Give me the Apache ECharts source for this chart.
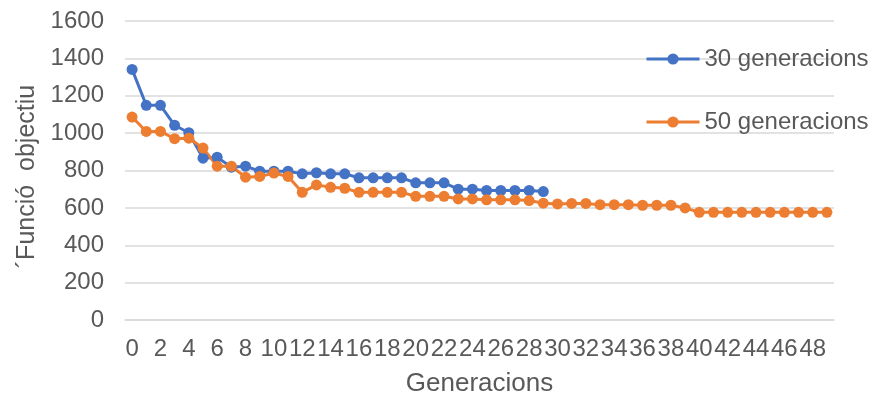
<!DOCTYPE html>
<html>
<head>
<meta charset="utf-8">
<title>Funció objectiu per generació</title>
<script src="https://cdn.jsdelivr.net/npm/echarts@6/dist/echarts.min.js"></script>
<style>
  html, body { margin: 0; padding: 0; background: #ffffff; }
  #chart { width: 871px; height: 397px; }
</style>
</head>
<body>
<div id="chart"></div>
<script>
// Generation index on the x axis (0..49)
const generations = Array.from({ length: 50 }, (_, i) => String(i));

// Objective function value per generation, run with 30 generations
const run30 = [1341, 1149, 1149, 1042, 1002, 866, 871, 818, 823, 796,
               796, 796, 782, 788, 782, 782, 761, 761, 761, 761,
               734, 734, 734, 700, 700, 693, 693, 693, 693, 687];

// Objective function value per generation, run with 50 generations
const run50 = [1086, 1009, 1009, 970, 973, 920, 823, 823, 764, 768,
               786, 768, 683, 723, 710, 705, 683, 683, 683, 683,
               662, 662, 662, 648, 648, 643, 643, 643, 639, 625,
               621, 624, 624, 617, 617, 617, 614, 614, 614, 600,
               576, 576, 576, 576, 576, 576, 576, 576, 576, 576];

const seriesNames = ['30 generacions', '50 generacions'];
const yTicks = { min: 0, max: 1600, interval: 200 };

const textColor = '#595959';
const gridColor = '#d9d9d9';
const fontFamily = '"Liberation Sans", Arial, sans-serif';

const chart = echarts.init(document.getElementById('chart'), null, { renderer: 'canvas' });

chart.setOption({
  animation: false,
  backgroundColor: '#ffffff',
  textStyle: { fontFamily: fontFamily, color: textColor },
  grid: {
    left: 125, right: 37, top: 21, bottom: 77,
    containLabel: false,
    outerBoundsMode: 'none'
  },
  legend: {
    orient: 'vertical',
    left: 640,
    top: 41,
    itemWidth: 53,
    itemHeight: 14,
    itemGap: 37,
    lineStyle: { width: 3 },
    textStyle: { fontSize: 24, color: textColor, lineHeight: 26 },
    data: seriesNames
  },
  xAxis: {
    type: 'category',
    data: generations,
    boundaryGap: true,
    name: 'Generacions',
    nameLocation: 'middle',
    nameGap: 51,
    nameTextStyle: { fontSize: 26, color: textColor },
    axisLine: { show: true, lineStyle: { color: gridColor, width: 1.5 } },
    axisTick: { show: false },
    axisLabel: { interval: 1, fontSize: 24, color: textColor, margin: 17 },
    splitLine: { show: false }
  },
  yAxis: {
    type: 'value',
    min: yTicks.min,
    max: yTicks.max,
    interval: yTicks.interval,
    name: '´Funció  objectiu',
    nameLocation: 'middle',
    nameGap: 80,
    nameTextStyle: { fontSize: 25, color: textColor, padding: [0, 12, 0, 0] },
    axisLine: { show: false },
    axisTick: { show: false },
    axisLabel: {
      fontSize: 24,
      color: textColor,
      margin: 21,
      formatter: (v) => String(v)
    },
    splitLine: { show: true, lineStyle: { color: gridColor, width: 1.5 } }
  },
  series: [
    {
      name: seriesNames[0],
      type: 'line',
      data: run30,
      symbol: 'circle',
      symbolSize: 11,
      showAllSymbol: true,
      itemStyle: { color: '#4472C4' },
      lineStyle: { color: '#4472C4', width: 3 }
    },
    {
      name: seriesNames[1],
      type: 'line',
      data: run50,
      symbol: 'circle',
      symbolSize: 11,
      showAllSymbol: true,
      itemStyle: { color: '#ED7D31' },
      lineStyle: { color: '#ED7D31', width: 3 }
    }
  ]
});
</script>
</body>
</html>
